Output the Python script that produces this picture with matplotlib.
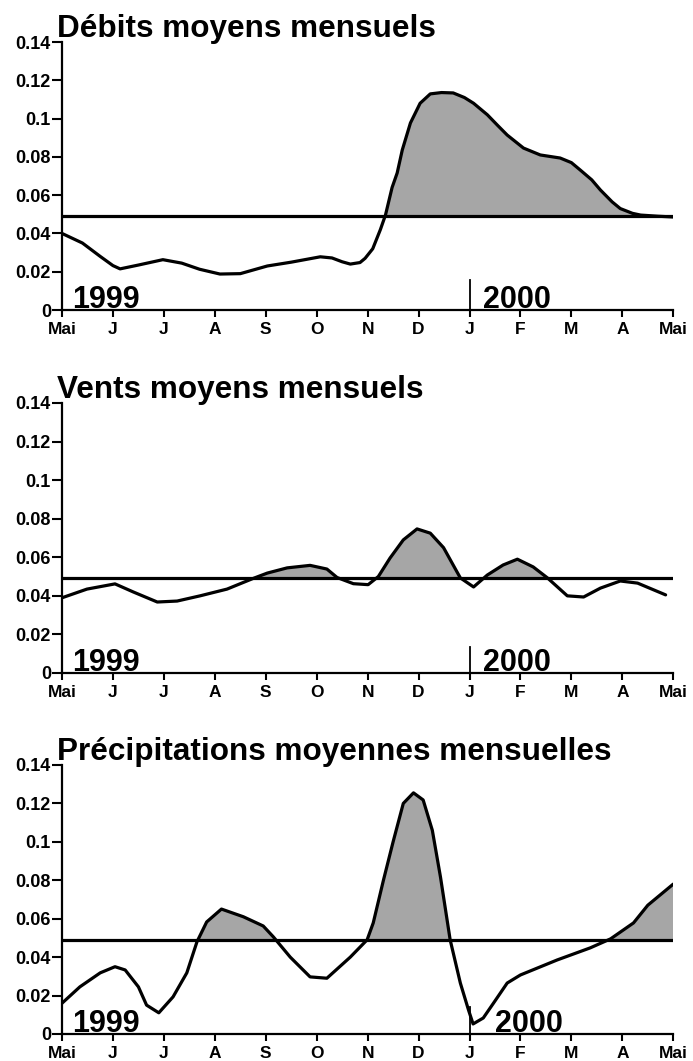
import numpy as np
import matplotlib
matplotlib.use('Agg')
import matplotlib.pyplot as plt

plt.rcParams['font.family'] = ['Liberation Sans', 'DejaVu Sans']
plt.rcParams['font.weight'] = 'bold'

# month labels, Mai 1999 -> Mai 2000
month_labels = ['Mai', 'J', 'J', 'A', 'S', 'O', 'N', 'D', 'J', 'F', 'M', 'A', 'Mai']
yticks = [0, 0.02, 0.04, 0.06, 0.08, 0.1, 0.12, 0.14]
ytick_labels = ['0', '0.02', '0.04', '0.06', '0.08', '0.1', '0.12', '0.14']
mean_level = 0.049

# debits (months since Mai 1999, value)
debits_t = [0, 0.4, 0.75, 1.0, 1.14, 1.5, 1.98, 2.35, 2.7, 3.1, 3.5, 4.03, 4.5, 5.07, 5.3,
            5.5, 5.66, 5.85, 5.95, 6.1, 6.25, 6.35, 6.48, 6.58, 6.68, 6.84, 7.03, 7.23,
            7.45, 7.68, 7.9, 8.08, 8.35, 8.55, 8.74, 9.06, 9.39, 9.78, 10.0, 10.18,
            10.4, 10.57, 10.8, 10.96, 11.2, 11.36, 11.7, 12]
debits_v = [0.040, 0.035, 0.028, 0.0232, 0.0215, 0.0235, 0.0263, 0.0245, 0.0213, 0.0188,
            0.019, 0.023, 0.025, 0.0278, 0.0272, 0.0252, 0.0240, 0.0248, 0.027, 0.032, 0.042,
            0.0496, 0.064, 0.0716, 0.0836, 0.0977, 0.108, 0.1129, 0.1136, 0.1134, 0.111,
            0.108, 0.102, 0.0965, 0.0914, 0.0846, 0.081, 0.0794, 0.077, 0.073, 0.068,
            0.0627, 0.0565, 0.053, 0.0505, 0.0496, 0.049, 0.0486]

# vents
vents_t = [0, 0.49, 1.04, 1.4, 1.87, 2.26, 2.71, 3.24, 3.75, 4.03, 4.42, 4.87, 5.2,
           5.4, 5.72, 6.01, 6.21, 6.44, 6.7, 6.97, 7.23, 7.49, 7.82, 8.08, 8.35, 8.66,
           8.94, 9.25, 9.53, 9.92, 10.24, 10.57, 10.96, 11.3, 11.85]
vents_v = [0.039, 0.0435, 0.0462, 0.042, 0.0368, 0.0373, 0.040, 0.0435, 0.049, 0.0518,
           0.0545, 0.0558, 0.0539, 0.0495, 0.0463, 0.0458, 0.050, 0.0596, 0.069, 0.0747,
           0.0725, 0.065, 0.0493, 0.0446, 0.0508, 0.056, 0.059, 0.055, 0.0493, 0.040,
           0.0394, 0.044, 0.0477, 0.0466, 0.0405]

# precipitations
precip_t = [0, 0.35, 0.75, 1.04, 1.24, 1.5, 1.66, 1.9, 2.18, 2.45, 2.65, 2.84, 3.13,
            3.56, 3.95, 4.15, 4.48, 4.87, 5.2, 5.66, 5.99, 6.11, 6.31, 6.5, 6.7, 6.9,
            7.09, 7.27, 7.43, 7.62, 7.82, 7.98, 8.07, 8.27, 8.47, 8.74, 9.0, 9.72,
            10.37, 10.77, 11.22, 11.5, 12]
precip_v = [0.016, 0.0245, 0.0318, 0.035, 0.0333, 0.0245, 0.015, 0.011, 0.0193, 0.0318,
            0.048, 0.0583, 0.065, 0.061, 0.0562, 0.0505, 0.040, 0.0297, 0.029, 0.040,
            0.049, 0.0578, 0.080, 0.100, 0.120, 0.1255, 0.1218, 0.106, 0.0817, 0.049,
            0.0265, 0.0125, 0.0052, 0.0083, 0.016, 0.0265, 0.0307, 0.0385, 0.0448,
            0.0495, 0.0578, 0.067, 0.078]

panels = [
    ('Débits moyens mensuels', debits_t, debits_v, 0.0157, 8.27),
    ('Vents moyens mensuels', vents_t, vents_v, 0.0135, 8.27),
    ('Précipitations moyennes mensuelles', precip_t, precip_v, 0.014, 8.5),
]

fig = plt.figure(figsize=(6.93, 10.61), dpi=100)
boxes = [[0.0895, 0.7078, 0.882, 0.2526],
         [0.0895, 0.3657, 0.882, 0.2545],
         [0.0895, 0.0255, 0.882, 0.2535]]

for (title, t, v, sep_h, x2000), box in zip(panels, boxes):
    ax = fig.add_axes(box)
    t = np.array(t)
    v = np.array(v)
    ax.fill_between(t, v, mean_level, where=v >= mean_level, interpolate=True,
                    color='#a6a6a6', linewidth=0)
    ax.axhline(mean_level, xmin=0, xmax=1, color='black', lw=2.3)
    ax.plot(t, v, color='black', lw=2.3, solid_joinstyle='round', solid_capstyle='round')
    ax.plot([8, 8], [0, sep_h], color='black', lw=1.3)

    ax.text(0.2, 0.0012, '1999', fontsize=22, fontweight='bold', va='baseline')
    ax.text(x2000, 0.0012, '2000', fontsize=22, fontweight='bold', va='baseline')
    ax.text(-0.009, 1.018, title, transform=ax.transAxes, fontsize=22.7,
            fontweight='bold', va='baseline', ha='left')

    ax.set_xlim(0, 12)
    ax.set_ylim(0, 0.14)
    ax.set_xticks(range(13))
    ax.set_xticklabels(month_labels, fontsize=12.5, fontweight='bold')
    ax.set_yticks(yticks)
    ax.set_yticklabels(ytick_labels, fontsize=13, fontweight='bold')
    ax.tick_params(axis='y', direction='out', length=7, width=1.5, pad=1)
    ax.tick_params(axis='x', direction='out', length=5, width=1.5, pad=3.5)
    for s in ['top', 'right']:
        ax.spines[s].set_visible(False)
    for s in ['left', 'bottom']:
        ax.spines[s].set_linewidth(1.6)
    ax.patch.set_alpha(0)

fig.savefig('out.png', dpi=100)
